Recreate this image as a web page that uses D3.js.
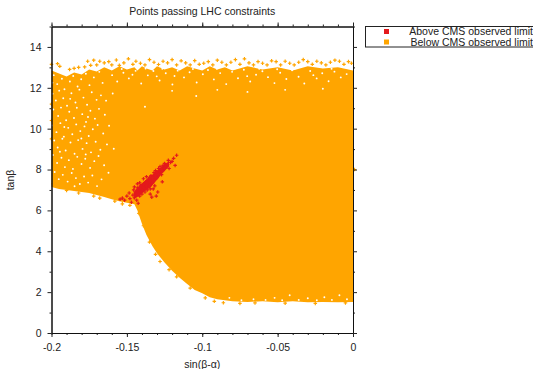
<!DOCTYPE html>
<html>
<head>
<meta charset="utf-8">
<script src="https://cdn.jsdelivr.net/npm/d3@7"></script>
<style>
  html, body { margin: 0; padding: 0; background: #fff; overflow: hidden; }
  text { font-family: "Liberation Sans", Arial, sans-serif; fill: #222; }
</style>
</head>
<body>
<script>
const title = "Points passing LHC constraints";
const xLabel = "sin(β-α)";
const yLabel = "tanβ";
const legendLabels = ["Above CMS observed limit", "Below CMS observed limit"];
const xTicks = [-0.2, -0.15, -0.1, -0.05, 0];
const xTickLabels = ["-0.2", "-0.15", "-0.1", "-0.05", "0"];
const xMinor = d3.range(0, 21).map((i) => -0.2 + i * 0.01);
const yTicks = [0, 2, 4, 6, 8, 10, 12, 14];
const yMinor = [1, 3, 5, 7, 9, 11, 13, 15];

// outline of the solid orange cloud
const cloudX = [-0.2, -0.195, -0.19, -0.185, -0.18, -0.175, -0.17, -0.165, -0.16, -0.155, -0.15, -0.145, -0.143, -0.14, -0.137, -0.133, -0.13, -0.125, -0.12, -0.115, -0.11, -0.105, -0.1, -0.095, -0.09, -0.085, -0.08, -0.07, -0.06, -0.05, -0.04, -0.03, -0.02, -0.01, 0];
const cloudTop = [12.85, 12.7, 12.55, 12.75, 12.65, 12.9, 12.8, 13, 12.85, 13.05, 12.9, 13, 12.85, 13.05, 12.95, 12.85, 13.05, 12.9, 13, 12.85, 13.05, 12.95, 12.85, 13.05, 12.9, 13, 12.85, 13.05, 12.9, 13, 12.85, 13.05, 12.95, 13, 12.85];
const cloudBottom = [7.15, 7.05, 7.0, 6.95, 6.9, 6.85, 6.75, 6.65, 6.55, 6.45, 6.38, 6.3, 6.0, 5.35, 4.8, 4.25, 3.9, 3.45, 3.05, 2.7, 2.4, 2.1, 1.95, 1.75, 1.65, 1.6, 1.55, 1.52, 1.55, 1.5, 1.55, 1.5, 1.52, 1.5, 1.52];

// stray orange points above the cloud and around its edges
const strayOrange = [
  [-0.2, 13.15], [-0.196, 13.18], [-0.1945, 13.05], [-0.188, 12.9], [-0.185, 12.95], [-0.182, 13.0], [-0.178, 13.02],
  [-0.176, 13.3], [-0.174, 13.1], [-0.172, 13.35], [-0.17, 13.12], [-0.168, 13.3], [-0.165, 13.22], [-0.162, 13.28], [-0.16, 13.12], [-0.157, 13.36], [-0.155, 13.1], [-0.152, 13.22],
  [-0.149, 13.42], [-0.146, 13.15], [-0.144, 13.3], [-0.141, 13.2], [-0.138, 13.12], [-0.135, 13.38], [-0.132, 13.25], [-0.129, 13.14], [-0.126, 13.3], [-0.123, 13.22],
  [-0.12, 13.38], [-0.117, 13.12], [-0.114, 13.32], [-0.111, 13.22], [-0.108, 13.12], [-0.105, 13.33], [-0.102, 13.15], [-0.099, 13.2], [-0.096, 13.28], [-0.093, 13.12],
  [-0.09, 13.35], [-0.087, 13.25], [-0.084, 13.12], [-0.081, 13.25], [-0.078, 13.38], [-0.075, 13.15], [-0.072, 13.42], [-0.069, 13.22], [-0.066, 13.12], [-0.063, 13.28],
  [-0.06, 13.2], [-0.057, 13.12], [-0.054, 13.32], [-0.051, 13.28], [-0.048, 13.12], [-0.045, 13.3], [-0.042, 13.2], [-0.039, 13.12], [-0.036, 13.25], [-0.033, 13.38],
  [-0.03, 13.28], [-0.027, 13.15], [-0.024, 13.3], [-0.021, 13.22], [-0.018, 13.12], [-0.015, 13.25], [-0.012, 13.35], [-0.009, 13.3], [-0.006, 13.15], [-0.003, 13.28], [-0.001, 13.2],
  [0.001, 8.0], [-0.2, 11.2], [-0.2, 9.5], [-0.2, 10.4], [-0.199, 7.3], [-0.19, 6.98], [-0.182, 6.85], [-0.172, 6.7], [-0.168, 6.6], [-0.158, 6.45], [-0.153, 6.32], [-0.148, 6.25], [-0.142, 5.85], [-0.139, 5.25], [-0.135, 4.45], [-0.131, 3.85], [-0.128, 3.5], [-0.122, 3.1], [-0.117, 2.75], [-0.108, 2.2], [-0.098, 1.72], [-0.092, 1.55], [-0.086, 1.48], [-0.075, 1.45], [-0.065, 1.47], [-0.045, 1.46], [-0.025, 1.45], [-0.005, 1.47]
];

// white specks where the cloud thins out
const cloudGaps = [
  [-0.1985, 12.62], [-0.1962, 12.18], [-0.1931, 12.44], [-0.1914, 11.93], [-0.1878, 12.31], [-0.1856, 12.58], [-0.1827, 12.06], [-0.1803, 12.42], [-0.1772, 12.69], [-0.1748, 12.13], [-0.1719, 12.51], [-0.1683, 12.78], [-0.1661, 12.24],
  [-0.1993, 11.71], [-0.1971, 11.38], [-0.1949, 11.86], [-0.1922, 11.49], [-0.1897, 11.12], [-0.1868, 11.73], [-0.1841, 11.28], [-0.1815, 11.91], [-0.1788, 11.52], [-0.1764, 11.17], [-0.1733, 11.78], [-0.1701, 11.41], [-0.1672, 11.63],
  [-0.1988, 10.94], [-0.1956, 10.62], [-0.1937, 11.03], [-0.1903, 10.41], [-0.1882, 10.83], [-0.1851, 10.52], [-0.1832, 11.02], [-0.1796, 10.71], [-0.1771, 10.33], [-0.1742, 10.88], [-0.1712, 10.49], [-0.1685, 10.97], [-0.1646, 10.68],
  [-0.1996, 10.16], [-0.1967, 9.83], [-0.1941, 10.27], [-0.1918, 9.61], [-0.1889, 10.04], [-0.1862, 9.73], [-0.1836, 10.21], [-0.1809, 9.88], [-0.1781, 10.11], [-0.1753, 9.64], [-0.1726, 9.97], [-0.1694, 10.18], [-0.1657, 9.76],
  [-0.1982, 9.42], [-0.1959, 9.08], [-0.1928, 9.51], [-0.1906, 8.93], [-0.1874, 9.32], [-0.1847, 8.77], [-0.1823, 9.44], [-0.1794, 9.01], [-0.1767, 9.29], [-0.1738, 8.84], [-0.1707, 9.36], [-0.1676, 8.97], [-0.1632, 9.23],
  [-0.1991, 8.71], [-0.1963, 8.32], [-0.1934, 8.58], [-0.1911, 8.12], [-0.1885, 8.46], [-0.1858, 8.03], [-0.1829, 8.62], [-0.1801, 8.27], [-0.1776, 8.53], [-0.1744, 8.08], [-0.1716, 8.41], [-0.1688, 8.66], [-0.1651, 8.21],
  [-0.1979, 7.88], [-0.1952, 7.53], [-0.1925, 7.74], [-0.1893, 7.41], [-0.1866, 7.83], [-0.1838, 7.58], [-0.1812, 7.29], [-0.1784, 7.66], [-0.1757, 7.36], [-0.1729, 7.71], [-0.1698, 7.19], [-0.1668, 7.52], [-0.1622, 7.84],
  [-0.1994, 12.25], [-0.1876, 11.46], [-0.1758, 10.57], [-0.1915, 10.08], [-0.1802, 9.52], [-0.1944, 8.87], [-0.1773, 8.74], [-0.1847, 7.18], [-0.1638, 11.37], [-0.1618, 10.14], [-0.1594, 11.72], [-0.1587, 9.02],
  [-0.1598, 12.62], [-0.1564, 12.31], [-0.1523, 12.74], [-0.1487, 12.46], [-0.1442, 12.83], [-0.1405, 12.21], [-0.1361, 12.61], [-0.1324, 12.82], [-0.1283, 12.36], [-0.1242, 12.71], [-0.1198, 12.16], [-0.1163, 12.84], [-0.1121, 12.51], [-0.1084, 12.76], [-0.1037, 12.26], [-0.0996, 12.66],
  [-0.0962, 12.87], [-0.0923, 12.41], [-0.0881, 12.72], [-0.0841, 12.18], [-0.0802, 12.78], [-0.0763, 12.47], [-0.0724, 12.88], [-0.0682, 12.31], [-0.0643, 12.64], [-0.0601, 12.81], [-0.0564, 12.52], [-0.0521, 12.23], [-0.0483, 12.74], [-0.0442, 12.43], [-0.0404, 12.86], [-0.0361, 12.54],
  [-0.0323, 12.21], [-0.0284, 12.82], [-0.0241, 12.46], [-0.0204, 12.71], [-0.0162, 12.32], [-0.0123, 12.79], [-0.0081, 12.51], [-0.0042, 12.67], [-0.1534, 12.92], [-0.1463, 12.64], [-0.1302, 12.56], [-0.1184, 12.58], [-0.0904, 12.93], [-0.0702, 12.57], [-0.0503, 12.91], [-0.0263, 12.62],
  [-0.138, 11.07], [-0.1376, 12.94], [-0.1265, 12.93], [-0.1062, 12.92], [-0.0783, 12.95], [-0.0622, 12.93], [-0.0382, 12.95], [-0.0142, 12.93], [-0.104, 11.6], [-0.09, 11.9], [-0.07, 11.8], [-0.045, 11.9], [-0.02, 11.95], [-0.12, 11.85],
  [-0.052, 1.72], [-0.047, 1.6], [-0.042, 1.85], [-0.036, 1.62], [-0.03, 1.7], [-0.024, 1.6], [-0.019, 1.75], [-0.014, 1.62], [-0.009, 1.85], [-0.004, 1.65], [-0.058, 1.62], [-0.066, 1.65], [-0.074, 1.6], [-0.082, 1.72]
];

// solid core of the red cluster
const redCoreX = [-0.1455, -0.142, -0.138, -0.134, -0.13, -0.126, -0.122];
const redCoreLow = [6.55, 6.7, 6.95, 7.15, 7.5, 7.85, 8.15];
const redCoreHigh = [6.9, 7.2, 7.45, 7.7, 7.95, 8.2, 8.4];

// points above the CMS limit
const redPoints = [
  [-0.1545, 6.55], [-0.153, 6.6], [-0.1515, 6.5], [-0.15, 6.7], [-0.1485, 6.85], [-0.148, 6.58], [-0.147, 6.4], [-0.146, 6.75], [-0.1455, 7.0], [-0.145, 6.62], [-0.144, 6.85], [-0.1435, 6.5], [-0.143, 7.1], [-0.142, 6.95], [-0.1415, 6.7],
  [-0.141, 7.2], [-0.14, 7.0], [-0.14, 6.8], [-0.139, 7.3], [-0.1385, 7.1], [-0.138, 6.9], [-0.1375, 7.4], [-0.137, 7.2], [-0.1365, 7.0], [-0.136, 7.5], [-0.136, 7.3], [-0.135, 7.6], [-0.135, 7.2], [-0.1345, 6.8], [-0.134, 7.45], [-0.134, 7.7],
  [-0.133, 7.35], [-0.133, 7.6], [-0.132, 7.85], [-0.132, 7.5], [-0.1315, 7.2], [-0.131, 7.7], [-0.131, 7.95], [-0.13, 7.6], [-0.13, 7.85], [-0.1295, 6.9], [-0.129, 8.05], [-0.129, 7.75], [-0.128, 7.9], [-0.128, 8.15],
  [-0.127, 8.0], [-0.127, 7.75], [-0.126, 8.2], [-0.126, 7.95], [-0.125, 8.3], [-0.125, 8.05], [-0.124, 8.15], [-0.123, 8.25], [-0.1225, 8.45], [-0.122, 8.05], [-0.121, 8.35], [-0.12, 8.4], [-0.119, 8.55], [-0.118, 8.2], [-0.117, 8.7],
  [-0.1415, 7.35], [-0.139, 7.55], [-0.137, 7.65], [-0.143, 7.3], [-0.1345, 7.05], [-0.1325, 7.05], [-0.1265, 7.4], [-0.145, 7.15], [-0.1425, 6.35], [-0.1335, 6.65], [-0.1305, 6.7]
];

const svgWidth = 533;
const svgHeight = 369;
const margin = { top: 26.5, right: 180, bottom: 36, left: 51.5 };
const width = svgWidth - margin.left - margin.right;
const height = svgHeight - margin.top - margin.bottom;

const svg = d3
  .select("body")
  .append("svg")
  .attr("width", svgWidth)
  .attr("height", svgHeight)
  .style("display", "block");

const g = svg.append("g").attr("transform", `translate(${margin.left},${margin.top})`);

const x = d3.scaleLinear().domain([-0.2, 0]).range([0, width]);
const y = d3.scaleLinear().domain([0, 15]).range([height, 0]);

const orange = "#ffa500";
const red = "#e41a1c";

const cloud = d3
  .area()
  .x((d) => x(d))
  .y0((d, i) => y(cloudBottom[i]))
  .y1((d, i) => y(cloudTop[i]));

g.append("path").attr("d", cloud(cloudX)).attr("fill", orange);

const cross = d3.symbol().type(d3.symbolCross).size(7);

g.selectAll(".gap")
  .data(cloudGaps)
  .join("circle")
  .attr("cx", (d) => x(d[0]))
  .attr("cy", (d) => y(d[1]))
  .attr("r", 0.95)
  .attr("fill", "#fff");

g.selectAll(".stray")
  .data(strayOrange)
  .join("path")
  .attr("d", cross)
  .attr("transform", (d) => `translate(${x(d[0])},${y(d[1])})`)
  .attr("fill", orange);

const redCore = d3
  .area()
  .x((d) => x(d))
  .y0((d, i) => y(redCoreLow[i]))
  .y1((d, i) => y(redCoreHigh[i]));

g.append("path").attr("d", redCore(redCoreX)).attr("fill", red);

g.selectAll(".red")
  .data(redPoints)
  .join("path")
  .attr("d", cross)
  .attr("transform", (d) => `translate(${x(d[0])},${y(d[1])})`)
  .attr("fill", red);

function drawAxis(axis, transform) {
  const a = g.append("g").attr("transform", transform).call(axis);
  a.selectAll("path.domain").attr("stroke", "#111").attr("stroke-width", 1);
  a.selectAll("line").attr("stroke", "#222");
  a.selectAll("text").style("font-size", "10.5px").attr("fill", "#222");
  return a;
}

drawAxis(d3.axisBottom(x).tickValues(xMinor).tickSize(2).tickSizeOuter(0).tickFormat(""), `translate(0,${height})`);
drawAxis(d3.axisTop(x).tickValues(xMinor).tickSize(2).tickSizeOuter(0).tickFormat(""), "translate(0,0)");
drawAxis(d3.axisLeft(y).tickValues(yMinor).tickSize(2).tickSizeOuter(0).tickFormat(""), "translate(0,0)");
drawAxis(d3.axisRight(y).tickValues(yMinor).tickSize(2).tickSizeOuter(0).tickFormat(""), `translate(${width},0)`);

drawAxis(d3.axisBottom(x).tickValues(xTicks).tickSize(4).tickSizeOuter(0).tickPadding(7).tickFormat((d, i) => xTickLabels[i]), `translate(0,${height})`);
drawAxis(d3.axisTop(x).tickValues(xTicks).tickSize(4).tickSizeOuter(0).tickFormat(""), "translate(0,0)");
drawAxis(d3.axisLeft(y).tickValues(yTicks).tickSize(4).tickSizeOuter(0).tickPadding(6).tickFormat((d) => d), "translate(0,0)");
drawAxis(d3.axisRight(y).tickValues(yTicks).tickSize(4).tickSizeOuter(0).tickFormat(""), `translate(${width},0)`);

svg.append("text")
  .attr("x", margin.left + width / 2)
  .attr("y", 14.5)
  .attr("text-anchor", "middle")
  .style("font-size", "10.5px")
  .text(title);

svg.append("text")
  .attr("x", margin.left + width / 2)
  .attr("y", 368)
  .attr("text-anchor", "middle")
  .style("font-size", "10.5px")
  .text(xLabel);

svg.append("text")
  .attr("transform", "translate(14,180) rotate(-90)")
  .attr("text-anchor", "middle")
  .style("font-size", "10.5px")
  .text(yLabel);

// legend runs off the right edge like the original
const legend = svg.append("g");
legend.append("rect")
  .attr("x", 365.5).attr("y", 26.5).attr("width", 190).attr("height", 20.5)
  .attr("fill", "#fff").attr("stroke", "#222").attr("stroke-width", 1);

const legendRows = legend.selectAll(".row")
  .data(legendLabels)
  .join("g")
  .attr("transform", (d, i) => `translate(0,${31.5 + i * 10.5})`);

legendRows.append("rect")
  .attr("x", 384).attr("y", -2.5).attr("width", 5).attr("height", 5)
  .attr("fill", (d, i) => [red, orange][i]);

legendRows.append("text")
  .attr("x", 533)
  .attr("y", 3.8)
  .attr("text-anchor", "end")
  .style("font-size", "10.5px")
  .text((d) => d);
</script>
</body>
</html>
